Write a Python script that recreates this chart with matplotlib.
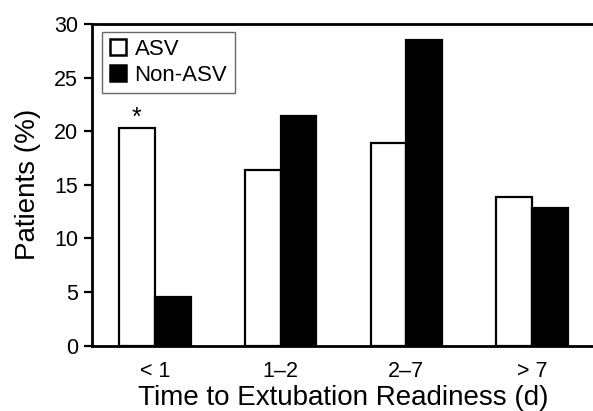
import matplotlib
matplotlib.use("Agg")
import matplotlib.pyplot as plt
import numpy as np
from matplotlib.patches import Patch

plt.rcParams['font.family'] = ['Liberation Sans', 'DejaVu Sans']

categories = ["< 1", "1\u20132", "2\u20137", "> 7"]
asv = [20.3, 16.4, 18.9, 13.9]
non_asv = [4.5, 21.4, 28.5, 12.8]
yticks = [0, 5, 10, 15, 20, 25, 30]

W, H = 593, 411
fig = plt.figure(figsize=(W / 100, H / 100), dpi=100)
left, right, top, bottom = 92, 595, 24, 345.7
ax = fig.add_axes([left / W, 1 - bottom / H, (right - left) / W, (bottom - top) / H])

x = np.arange(len(categories))
bw = 0.285
ax.bar(x - bw / 2, asv, width=bw, color='white', edgecolor='black', linewidth=1.6)
ax.bar(x + bw / 2, non_asv, width=bw, color='black', edgecolor='black', linewidth=1.6)

ax.text(x[0] - bw / 2, asv[0] - 0.2, "*", ha='center', va='bottom', fontsize=18)

ax.set_xlim(-0.5, 3.5)
ax.set_ylim(0, 30)
ax.set_yticks(yticks)
ax.set_xticks(x)
ax.set_xticklabels(categories)
ax.tick_params(axis='y', labelsize=15.5, length=6, width=1.6, direction='out', pad=4)
ax.tick_params(axis='x', labelsize=15.5, length=0, pad=11)
for s in ['left', 'bottom', 'top']:
    ax.spines[s].set_linewidth(2)
ax.spines['right'].set_visible(False)

ax.set_ylabel("Patients (%)", fontsize=20, labelpad=9)
ax.set_xlabel("Time to Extubation Readiness (d)", fontsize=20, labelpad=2)

handles = [Patch(facecolor='white', edgecolor='black', linewidth=1.8, label='ASV'),
           Patch(facecolor='black', edgecolor='black', linewidth=1.8, label='Non-ASV')]
leg = ax.legend(handles=handles, loc='upper left',
                bbox_to_anchor=((102.3 - left) / (right - left), 1 - (31.7 - top) / (bottom - top)),
                borderaxespad=0, fontsize=16, handlelength=0.72, handleheight=0.72,
                handletextpad=0.4, labelspacing=0.22, borderpad=0.33,
                fancybox=False, frameon=True, edgecolor='#444444')
leg.get_frame().set_linewidth(1.0)

fig.savefig("out.png", dpi=100)
